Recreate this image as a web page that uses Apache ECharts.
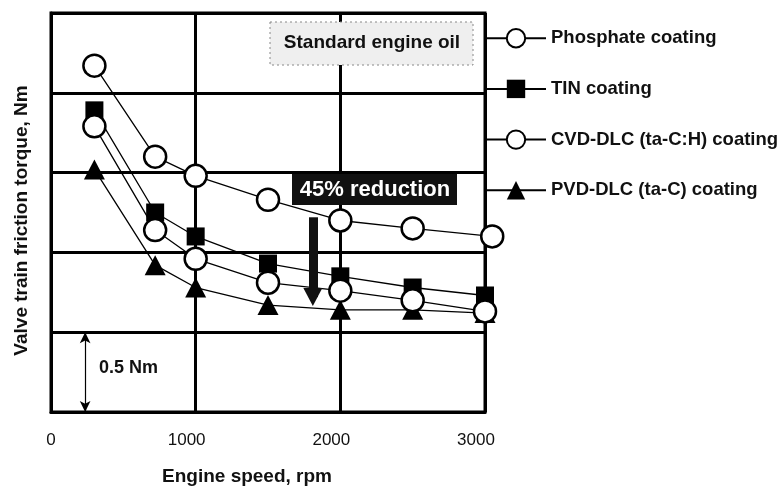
<!DOCTYPE html>
<html>
<head>
<meta charset="utf-8">
<script src="https://cdn.jsdelivr.net/npm/echarts@6/dist/echarts.min.js"></script>
<style>
  html, body { margin: 0; padding: 0; background: #fff; }
  #main { width: 783px; height: 493px; }
</style>
</head>
<body>
<div id="main"></div>
<script>
"use strict"
// engine speed (rpm) of each measured point
var speeds      = [300, 720, 1000, 1500, 2000, 2500, 3000];
var speedsPhos  = [300, 720, 1000, 1500, 2000, 2500, 3050];
var xTicks      = [0, 1000, 2000, 3000];

// valve train friction torque, Nm
var phosphate = [2.17, 1.60, 1.48, 1.33, 1.20, 1.15, 1.10];
var tin       = [1.89, 1.25, 1.10, 0.93, 0.85, 0.78, 0.73];
var cvdDlc    = [1.79, 1.14, 0.96, 0.81, 0.76, 0.70, 0.63];
var pvdDlc    = [1.52, 0.92, 0.78, 0.67, 0.64, 0.64, 0.62];

var seriesNames = ['Phosphate coating', 'TIN coating', 'CVD-DLC (ta-C:H) coating', 'PVD-DLC (ta-C) coating'];

function pairs(xs, ys) {
  return ys.map(function (v, i) { return [xs[i], v]; });
}

var font = 'Liberation Sans';
var myChart = echarts.init(document.getElementById('main'));

var hollow = { color: '#fff', borderColor: '#000', borderWidth: 2.5 };
var filled = { color: '#000', borderColor: '#000', borderWidth: 0 };
var thin = { color: '#000', width: 1.3 };

var option = {
  animation: false,
  grid: {
    left: 51, right: 298, top: 13, bottom: 81,
    show: true, borderColor: '#000', borderWidth: 3
  },
  legend: {
    orient: 'vertical',
    left: 485, top: 28,
    itemWidth: 60, itemHeight: 23, itemGap: 31,
    padding: 0,
    textStyle: { fontFamily: font, fontWeight: 'bold', fontSize: 18.5, color: '#111' },
    data: seriesNames
  },
  xAxis: {
    type: 'value',
    min: 0, max: 3000, interval: 1000,
    name: 'Engine speed, rpm',
    nameLocation: 'middle',
    nameGap: 55,
    nameTextStyle: { fontFamily: font, fontWeight: 'bold', fontSize: 19, color: '#111', padding: [0, 42, 0, 0] },
    axisLine: { show: true, lineStyle: { color: '#000', width: 3 } },
    axisTick: { show: false },
    splitLine: { show: true, lineStyle: { color: '#000', width: 3 } },
    axisLabel: {
      margin: 20,
      fontFamily: font, fontSize: 17, color: '#111',
      formatter: function (v) { return v === 0 ? '{z|0}' : '{n|' + v + '}'; },
      rich: {
        z: { fontFamily: font, fontSize: 17, color: '#111' },
        n: { fontFamily: font, fontSize: 17, color: '#111', padding: [0, 18, 0, 0] }
      }
    }
  },
  yAxis: {
    type: 'value',
    min: 0, max: 2.5, interval: 0.5,
    name: 'Valve train friction torque, Nm',
    nameLocation: 'middle',
    nameGap: 20,
    nameTextStyle: { fontFamily: font, fontWeight: 'bold', fontSize: 19, color: '#111', padding: [0, 16, 0, 0] },
    axisLine: { show: true, lineStyle: { color: '#000', width: 3 } },
    axisTick: { show: false },
    axisLabel: { show: false },
    splitLine: { show: true, lineStyle: { color: '#000', width: 3 } }
  },
  series: [
    {
      name: seriesNames[0], type: 'line', clip: false,
      data: pairs(speedsPhos, phosphate),
      symbol: 'circle', symbolSize: 22,
      itemStyle: hollow, lineStyle: thin, z: 3
    },
    {
      name: seriesNames[1], type: 'line', clip: false,
      data: pairs(speeds, tin),
      symbol: 'rect', symbolSize: 18,
      itemStyle: filled, lineStyle: thin, z: 2
    },
    {
      name: seriesNames[2], type: 'line', clip: false,
      data: pairs(speeds, cvdDlc),
      symbol: 'circle', symbolSize: 22,
      itemStyle: hollow, lineStyle: thin, z: 4
    },
    {
      name: seriesNames[3], type: 'line', clip: false,
      data: pairs(speeds, pvdDlc),
      symbol: 'triangle', symbolSize: [21, 20],
      itemStyle: filled, lineStyle: thin, z: 3,
      markLine: {
        silent: true,
        animation: false,
        label: { show: false },
        data: [
          // 45% reduction arrow
          [
            { coord: [1810, 1.22], symbol: 'none', lineStyle: { width: 9, color: '#111', type: 'solid' } },
            { coord: [1810, 0.72], symbol: 'triangle', symbolSize: [19, 18] }
          ],
          // 0.5 Nm scale arrow
          [
            { coord: [236, 0.5], symbol: 'arrow', symbolSize: [8, 11], lineStyle: { width: 1.2, color: '#000', type: 'solid' } },
            { coord: [236, 0], symbol: 'arrow', symbolSize: [8, 11] }
          ]
        ]
      }
    }
  ],
  graphic: [
    {
      type: 'rect',
      shape: { x: 270, y: 22, width: 203, height: 43 },
      style: { fill: '#efefef', stroke: '#888', lineWidth: 1, lineDash: [2, 3] },
      z: 10
    },
    {
      type: 'text',
      x: 372, y: 43,
      style: {
        text: 'Standard engine oil',
        font: 'bold 19px "Liberation Sans"',
        fill: '#111', align: 'center', verticalAlign: 'middle'
      },
      z: 11
    },
    {
      type: 'rect',
      shape: { x: 292, y: 174, width: 165, height: 31 },
      style: { fill: '#111' },
      z: 10
    },
    {
      type: 'text',
      x: 375, y: 190,
      style: {
        text: '45% reduction',
        font: 'bold 22px "Liberation Sans"',
        fill: '#fff', align: 'center', verticalAlign: 'middle'
      },
      z: 11
    },
    {
      type: 'text',
      x: 99, y: 368,
      style: {
        text: '0.5 Nm',
        font: 'bold 18px "Liberation Sans"',
        fill: '#111', align: 'left', verticalAlign: 'middle'
      },
      z: 11
    }
  ]
};

if (option && typeof option === "object") {
  myChart.setOption(option, true);
}
</script>
</body>
</html>
